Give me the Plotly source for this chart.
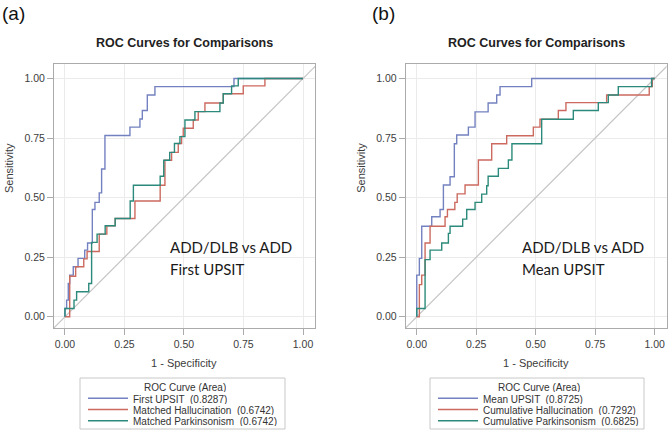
import plotly.graph_objects as go

# ---------------- data ----------------
tick_vals = [0, 0.25, 0.5, 0.75, 1.0]
tick_text = ["0.00", "0.25", "0.50", "0.75", "1.00"]

# Panel (a): First UPSIT comparison
a_names = ["First UPSIT", "Matched Hallucination", "Matched Parkinsonism"]
a_auc = ["0.8287", "0.6742", "0.6742"]
a_first_upsit_fpr = [0, 0, 0.007, 0.014, 0.02, 0.035, 0.055, 0.083, 0.095, 0.115, 0.126, 0.144,
                     0.154, 0.168, 0.273, 0.315, 0.325, 0.346, 0.378, 0.71, 1.0]
a_first_upsit_tpr = [0, 0.035, 0.07, 0.14, 0.175, 0.21, 0.245, 0.28, 0.31, 0.45, 0.48, 0.52,
                     0.62, 0.761, 0.796, 0.83, 0.866, 0.931, 0.966, 1.0, 1.0]
a_halluc_fpr = [0, 0.02, 0.045, 0.079, 0.093, 0.144, 0.176, 0.211, 0.294, 0.40, 0.42, 0.448,
                0.476, 0.49, 0.497, 0.539, 0.56, 0.588, 0.665, 0.749, 0.84, 1.0]
a_halluc_tpr = [0, 0.17, 0.21, 0.243, 0.274, 0.347, 0.382, 0.4125, 0.486, 0.552, 0.657, 0.69,
                0.727, 0.757, 0.791, 0.826, 0.861, 0.897, 0.936, 0.969, 1.0, 1.0]
a_parkin_fpr = [0, 0, 0.038, 0.049, 0.10, 0.112, 0.135, 0.169, 0.211, 0.274, 0.2875, 0.40,
                0.415, 0.44, 0.46, 0.483, 0.504, 0.546, 0.651, 0.665, 0.70, 0.728, 1.0]
a_parkin_tpr = [0, 0.035, 0.07, 0.105, 0.14, 0.3125, 0.347, 0.382, 0.4125, 0.486, 0.552, 0.59,
                0.657, 0.69, 0.727, 0.756, 0.826, 0.861, 0.897, 0.936, 0.969, 1.0, 1.0]

# Panel (b): Mean UPSIT comparison
b_names = ["Mean UPSIT", "Cumulative Hallucination", "Cumulative Parkinsonism"]
b_auc = ["0.8725", "0.7292", "0.6825"]
b_mean_upsit_fpr = [0, 0, 0.011, 0.021, 0.063, 0.098, 0.112, 0.14, 0.158, 0.168, 0.217, 0.245,
                    0.30, 0.336, 0.35, 0.483, 1.0]
b_mean_upsit_tpr = [0, 0.175, 0.245, 0.38, 0.42, 0.45, 0.553, 0.588, 0.726, 0.763, 0.796, 0.86,
                    0.897, 0.931, 0.966, 1.0, 1.0]
b_halluc_fpr = [0, 0.011, 0.021, 0.035, 0.056, 0.119, 0.129, 0.16, 0.17, 0.203, 0.259, 0.315,
                0.378, 0.49, 0.518, 0.595, 0.627, 0.798, 0.977, 0.99, 1.0]
b_halluc_tpr = [0, 0.135, 0.175, 0.31, 0.38, 0.42, 0.45, 0.48, 0.516, 0.553, 0.658, 0.726,
                0.76, 0.796, 0.829, 0.866, 0.899, 0.931, 0.966, 1.0, 1.0]
b_parkin_fpr = [0, 0, 0.035, 0.056, 0.105, 0.133, 0.14, 0.193, 0.21, 0.245, 0.273, 0.294, 0.30,
                0.343, 0.385, 0.40, 0.525, 0.658, 0.763, 0.805, 0.847, 0.987, 1.0]
b_parkin_tpr = [0, 0.035, 0.24, 0.28, 0.31, 0.35, 0.38, 0.41, 0.45, 0.48, 0.515, 0.55, 0.59,
                0.623, 0.658, 0.726, 0.829, 0.866, 0.899, 0.931, 0.966, 1.0, 1.0]

diag = [-0.2, 1.2]

# ---------------- style ----------------
W, H = 672, 433
colors = ["#7381c0", "#cc6a5f", "#2b8a7b"]
FONT = "Liberation Sans, Arial, sans-serif"
NOTE_FONT = "Lato, Carlito, Calibri, sans-serif"

def px(X):
    return X / W

def py(Y):
    return 1 - Y / H

fig = go.Figure()

panels = [
    ("x", "y", [(a_first_upsit_fpr, a_first_upsit_tpr), (a_halluc_fpr, a_halluc_tpr),
                (a_parkin_fpr, a_parkin_tpr)]),
    ("x2", "y2", [(b_mean_upsit_fpr, b_mean_upsit_tpr), (b_halluc_fpr, b_halluc_tpr),
                  (b_parkin_fpr, b_parkin_tpr)]),
]
for xa, ya, series in panels:
    fig.add_trace(go.Scatter(x=diag, y=diag, mode="lines", xaxis=xa, yaxis=ya,
                             line=dict(color="#c4c4c4", width=1.2), showlegend=False,
                             hoverinfo="skip"))
    for (fx, ty), c in zip(series, colors):
        fig.add_trace(go.Scatter(x=fx, y=ty, mode="lines", xaxis=xa, yaxis=ya,
                                 line=dict(color=c, width=1.4, shape="hv"), showlegend=False))

xr = [-0.046, 1.05]
yr = [-0.047, 1.063]
ax_common = dict(
    tickvals=tick_vals, ticktext=tick_text, showgrid=True, gridcolor="#ebebeb", gridwidth=1,
    zeroline=False, showline=True, linecolor="#ababab", linewidth=1, mirror=True,
    ticks="outside", ticklen=6, tickcolor="#ababab",
    tickfont=dict(family=FONT, size=10.5, color="#3c3c3c"), fixedrange=True,
)
ydom = [py(328), py(63.5)]
fig.update_layout(
    xaxis=dict(domain=[px(54.0), px(314.9)], range=xr, anchor="y", **ax_common),
    yaxis=dict(domain=ydom, range=yr, anchor="x", **ax_common),
    xaxis2=dict(domain=[px(405.8), px(666.6)], range=xr, anchor="y2", **ax_common),
    yaxis2=dict(domain=ydom, range=yr, anchor="x2", **ax_common),
)

annotations = []
shapes = []
panel_info = [
    ("(a)", 0, 54.0, 314.9, "x", "y", a_names, a_auc, 80, 285, "First UPSIT"),
    ("(b)", 370, 405.8, 666.6, "x2", "y2", b_names, b_auc, 430, 644, "Mean UPSIT"),
]
for lab, labx, fl, fr, xa, ya, names, aucs, lbx0, lbx1, note in panel_info:
    cx = (fl + fr) / 2
    annotations.append(dict(text=lab, x=px(labx), y=py(14), xref="paper", yref="paper",
                            xanchor="left", yanchor="middle", showarrow=False,
                            font=dict(family=FONT, size=19, color="#111")))
    annotations.append(dict(text="<b>ROC Curves for Comparisons</b>", x=px(cx), y=py(43),
                            xref="paper", yref="paper", xanchor="center", yanchor="middle",
                            showarrow=False, font=dict(family=FONT, size=12.5, color="#222")))
    annotations.append(dict(text="1 - Specificity", x=px(cx), y=py(363), xref="paper",
                            yref="paper", xanchor="center", yanchor="middle", showarrow=False,
                            font=dict(family=FONT, size=11, color="#3c3c3c")))
    annotations.append(dict(text="Sensitivity", x=px(fl - 45), y=py(168), xref="paper",
                            yref="paper", xanchor="center", yanchor="middle", textangle=-90,
                            showarrow=False, font=dict(family=FONT, size=11, color="#3c3c3c")))
    # note text inside plot
    for txt, yy in [("ADD/DLB vs ADD", 0.295), (note, 0.2)]:
        annotations.append(dict(text=txt, x=0.432, y=yy, xref=xa, yref=ya, xanchor="left",
                                yanchor="middle", showarrow=False,
                                font=dict(family=NOTE_FONT, size=15, color="#1a1a1a")))
    # legend box
    shapes.append(dict(type="rect", xref="paper", yref="paper", x0=px(lbx0), x1=px(lbx1),
                       y0=py(429), y1=py(378), line=dict(color="#c8c8c8", width=1)))
    annotations.append(dict(text="ROC Curve (Area)", x=px((lbx0 + lbx1) / 2 + 2), y=py(386.8),
                            xref="paper", yref="paper", xanchor="center", yanchor="middle",
                            height=10, borderpad=0, valign="middle",
                            showarrow=False, font=dict(family=FONT, size=10, color="#333")))
    for i, (nm, auc, c) in enumerate(zip(names, aucs, colors)):
        yy = 398.2 + 11.3 * i
        shapes.append(dict(type="line", xref="paper", yref="paper", x0=px(lbx0 + 8),
                           x1=px(lbx0 + 48), y0=py(yy), y1=py(yy),
                           line=dict(color=c, width=1.4)))
        annotations.append(dict(text=f"{nm}  ({auc})", x=px(lbx0 + 52), y=py(yy + 0.3),
                                xref="paper", yref="paper", xanchor="left", yanchor="middle",
                                height=10, borderpad=0, valign="middle", showarrow=False,
                                font=dict(family=FONT, size=10, color="#333")))

fig.update_layout(
    width=W, height=H, margin=dict(l=0, r=0, t=0, b=0),
    paper_bgcolor="white", plot_bgcolor="white",
    annotations=annotations, shapes=shapes, showlegend=False,
)
fig.write_html("out.html", config={"displayModeBar": False},
               post_script="document.body.style.margin='0px';")
